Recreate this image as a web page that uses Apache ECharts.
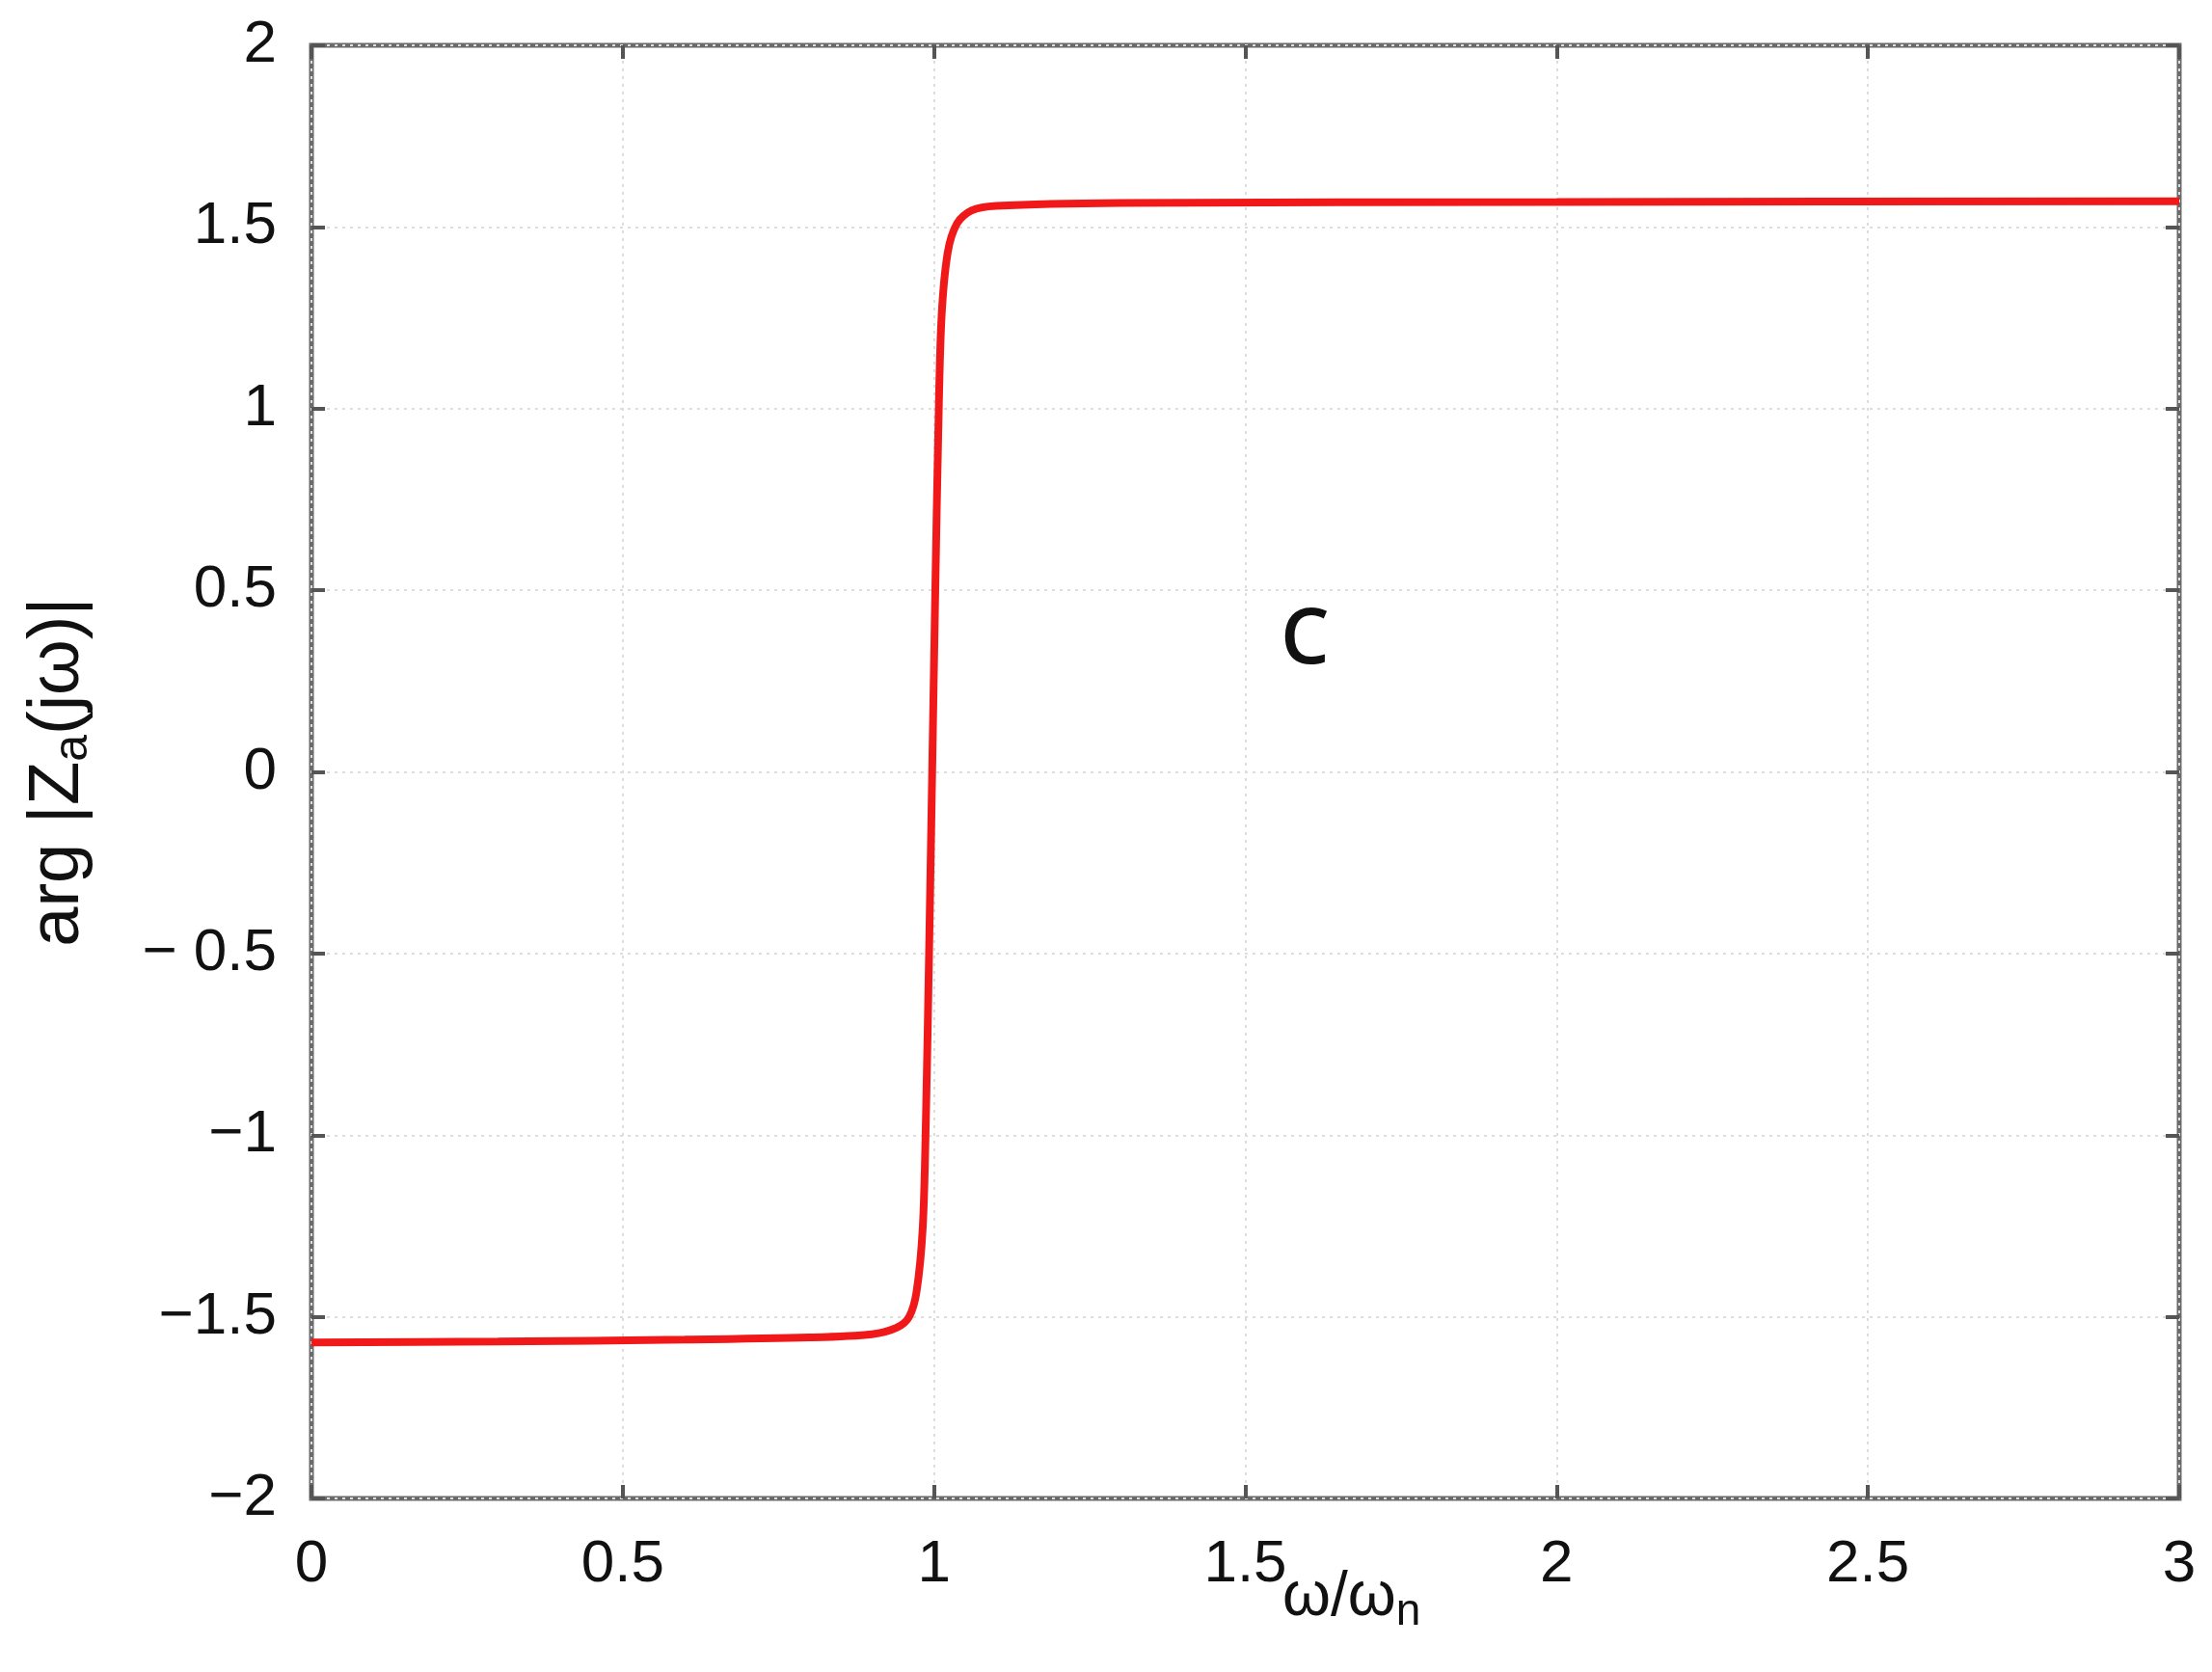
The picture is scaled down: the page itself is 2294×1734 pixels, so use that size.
<!DOCTYPE html>
<html>
<head>
<meta charset="utf-8">
<script src="https://cdn.jsdelivr.net/npm/echarts@6/dist/echarts.min.js"></script>
<style>html,body{margin:0;background:#fff}#chart{width:2294px;height:1734px}</style>
</head>
<body>
<div id="chart"></div>
<script>
// frequency ratio w/wn and phase (rad)
var ratio = [0, 0.3, 0.6, 0.8, 0.9, 0.94, 0.96, 0.972, 0.982, 0.987, 0.992, 0.997, 1.002, 1.007, 1.012, 1.022, 1.037, 1.06, 1.1, 1.3, 2.0, 3.0];
var phase = [-1.571, -1.568, -1.563, -1.557, -1.548, -1.53, -1.5, -1.43, -1.25, -0.95, -0.5, 0, 0.5, 0.95, 1.25, 1.43, 1.51, 1.545, 1.558, 1.566, 1.569, 1.571];
var xTicks = [0, 0.5, 1, 1.5, 2, 2.5, 3];
var yTicks = [-2, -1.5, -1, -0.5, 0, 0.5, 1, 1.5, 2];

var fmtY = function (v) {
    if (v === -0.5) return '\u2212 0.5';
    return v < 0 ? '\u2212' + Math.abs(v) : String(v);
};

var font = 'Liberation Sans';
var split = {show: true, lineStyle: {color: '#dddddd', type: [3, 5], width: 2}};
var tick = {show: true, inside: true, length: 14, lineStyle: {color: '#555', width: 4}};

var option = {
    backgroundColor: '#fff',
    grid: {left: 323, right: 34, top: 47, bottom: 180, show: true, borderColor: '#6a6a6a', borderWidth: 5},
    xAxis: [{
        type: 'value', min: 0, max: 3, interval: 0.5,
        axisLine: {show: false, onZero: false}, axisTick: tick, splitLine: split,
        axisLabel: {fontFamily: font, fontSize: 62, color: '#111', margin: 38,
            formatter: function (v) { return String(v); }}
    }, {
        type: 'value', min: 0, max: 3, interval: 0.5, position: 'top',
        axisLine: {show: false, onZero: false}, axisTick: tick, splitLine: {show: false}, axisLabel: {show: false}
    }],
    yAxis: [{
        type: 'value', min: -2, max: 2, interval: 0.5,
        axisLine: {show: false, onZero: false}, axisTick: tick, splitLine: split,
        axisLabel: {fontFamily: font, fontSize: 62, color: '#111', margin: 36, formatter: fmtY},
        name: '{a|arg |Z}{s|a}{a|(j\u03c9)|}', nameLocation: 'middle', nameGap: 225, nameRotate: 90,
        nameTextStyle: {rich: {
            a: {fontFamily: font, fontSize: 74, color: '#111'},
            s: {fontFamily: font, fontSize: 50, color: '#111', padding: [0, 0, -30, 0]}
        }}
    }, {
        type: 'value', min: -2, max: 2, interval: 0.5, position: 'right',
        axisLine: {show: false, onZero: false}, axisTick: tick, splitLine: {show: false}, axisLabel: {show: false}
    }],
    graphic: [{
        type: 'text', left: 1330, top: 1625,
        style: {rich: {
            a: {fontFamily: font, fontSize: 64, fill: '#111'},
            s: {fontFamily: font, fontSize: 46, fill: '#111', padding: [0, 0, -30, 0]}
        }, text: '{a|\u03c9/\u03c9}{s|n}'}
    }, {
        type: 'text', left: 1328, top: 625,
        style: {text: 'C', fontFamily: 'Open Sans', fontSize: 80, fontWeight: 600, fill: '#111'}
    }],
    series: [{
        type: 'line', showSymbol: false, smooth: 0.3,
        data: ratio.map(function (x, i) { return [x, phase[i]]; }),
        lineStyle: {color: '#f01818', width: 8}
    }]
};

var myChart = echarts.init(document.getElementById('chart'));
myChart.setOption(option);
</script>
</body>
</html>
